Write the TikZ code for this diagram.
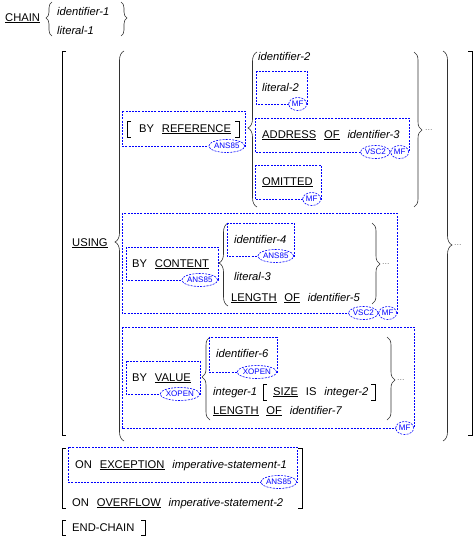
\documentclass[tikz,border=0pt]{standalone}
\usepackage{fontspec}
\setmainfont{Liberation Sans}
\usetikzlibrary{shapes.geometric,decorations.pathreplacing}
\definecolor{dbox}{RGB}{0,0,255}
\definecolor{brcol}{RGB}{50,50,50}
\newcommand\gp{\hspace{7.8pt}}
\newcommand\ukw[1]{\underline{#1}}
\newcommand\lbrc[5]{\pgfmathsetmacro\asp{(#3-#4)/(#3-#2)}\draw[brc, decoration={brace, amplitude=#5pt, aspect=\asp}] (#1,#3) -- (#1,#2);}
\newcommand\rbrc[5]{\pgfmathsetmacro\asp{(#4-#2)/(#3-#2)}\draw[brc, decoration={brace, amplitude=#5pt, aspect=\asp}] (#1,#2) -- (#1,#3);}
\newcommand\lbk[3]{\draw[brk] (#1+4,#2) -- (#1,#2) -- (#1,#3) -- (#1+4,#3);}
\newcommand\rbk[3]{\draw[brk] (#1-4,#2) -- (#1,#2) -- (#1,#3) -- (#1-4,#3);}
\tikzset{
 txt/.style={anchor=base west, inner sep=0pt, font=\fontsize{11.2}{13}\selectfont},
 itx/.style={anchor=base west, inner sep=0pt, font=\fontsize{11.2}{13}\selectfont\itshape},
 dbx/.style={draw=dbox, dash pattern=on 2pt off 1.2pt, line width=0.6pt},
 badge/.style={ellipse, draw=dbox, dash pattern=on 2pt off 1.2pt, line width=0.6pt, fill=white, text=dbox, inner xsep=0pt, inner ysep=0pt, minimum height=13pt, minimum width=18pt, font=\fontsize{8}{8}\selectfont, anchor=east},
 brk/.style={draw=black, line width=0.7pt},
 brc/.style={draw=brcol, line width=0.6pt, decorate},
 dots/.style={anchor=west, inner sep=0pt, text=gray, font=\fontsize{9}{9}\selectfont},
}
\begin{document}
\begin{tikzpicture}[x=1pt,y=-1pt]
\useasboundingbox (0,0) rectangle (475,538);
% CHAIN
\node[txt] (chain) at (5,21) {\ukw{CHAIN}};
\lbrc{52}{2}{36}{18}{6}
\node[itx] (id1) at (57,16) {identifier-1};
\node[itx] (lit1) at (57,34) {literal-1};
\rbrc{121}{2}{36}{18}{6}
% USING big
\lbk{62}{51}{435}
\rbk{472}{51}{435}
\node[txt] (using) at (72,246) {\ukw{USING}};
\lbrc{124}{51}{441}{242}{9}
\rbrc{443}{51}{441}{245}{9}
\node[dots] (dotsbig) at (454,245) {...};
% Group 1
\draw[dbx] (122,111) rectangle (245,146);
\lbk{127}{121}{137}
\node[txt] (byref) at (139,132) {BY\gp\ukw{REFERENCE}};
\rbk{239}{121}{137}
\node[badge] (ans1) at (245,146) {ANS85};
\lbrc{257}{52}{207}{128}{9}
\node[itx] (id2) at (258,60) {identifier-2};
\draw[dbx] (256,71) rectangle (307,104);
\node[itx] (lit2) at (262,91) {literal-2};
\node[badge] (mf1) at (307,104) {MF};
\draw[dbx] (255,118) rectangle (409,152);
\node[txt] (addr) at (262,138) {\ukw{ADDRESS}\gp\ukw{OF}\gp\textit{identifier-3}};
\node[badge] (mf2) at (409,152) {MF};
\node[badge] (vsc1) at (mf2.west) {VSC2};
\draw[dbx] (255,165) rectangle (321,199);
\node[txt] (omit) at (262,185) {\ukw{OMITTED}};
\node[badge] (mf3) at (321,199) {MF};
\rbrc{414}{52}{207}{130}{8}
\node[dots] (dots1) at (425,130) {...};
% Group 2
\draw[dbx] (122,213) rectangle (397,313);
\draw[dbx] (126,247) rectangle (218,280);
\node[txt] (bycont) at (132,267) {BY\gp\ukw{CONTENT}};
\node[badge] (ans2) at (218,280) {ANS85};
\lbrc{228}{223}{306}{263}{9}
\draw[dbx] (227,223) rectangle (294,256);
\node[itx] (id4) at (234,243) {identifier-4};
\node[badge] (ans3) at (294,256) {ANS85};
\node[itx] (lit3) at (234,280) {literal-3};
\node[txt] (len5) at (231,301) {\ukw{LENGTH}\gp\ukw{OF}\gp\textit{identifier-5}};
\rbrc{372}{223}{304}{264}{8}
\node[dots] (dots2) at (382,264) {...};
\node[badge] (mf4) at (397,313) {MF};
\node[badge] (vsc2) at (mf4.west) {VSC2};
% Group 3
\draw[dbx] (122,327) rectangle (414,428);
\draw[dbx] (126,361) rectangle (200,394);
\node[txt] (byval) at (132,381) {BY\gp\ukw{VALUE}};
\node[badge] (xo1) at (200,394) {XOPEN};
\lbrc{210}{337}{420}{377}{8}
\draw[dbx] (209,337) rectangle (277,372);
\node[itx] (id6) at (216,357) {identifier-6};
\node[badge] (xo2) at (277,372) {XOPEN};
\node[itx] (int1) at (213,395) {integer-1};
\lbk{263}{384}{400}
\node[txt] (size) at (273,395) {\ukw{SIZE}\gp IS\gp\textit{integer-2}};
\rbk{375}{384}{400}
\node[txt] (len7) at (213,414) {\ukw{LENGTH}\gp\ukw{OF}\gp\textit{identifier-7}};
\rbrc{387}{337}{420}{380}{8}
\node[dots] (dots3) at (397,380) {...};
\node[badge] (mf5) at (414,428) {MF};
% ON EXCEPTION / OVERFLOW
\lbk{62}{448}{508}
\rbk{302}{448}{508}
\draw[dbx] (68,447) rectangle (297,482);
\node[txt] (onexc) at (75,468) {ON\gp\ukw{EXCEPTION}\gp\textit{imperative-statement-1}};
\node[badge] (ans4) at (297,482) {ANS85};
\node[txt] (onovf) at (72,506) {ON\gp\ukw{OVERFLOW}\gp\textit{imperative-statement-2}};
% END-CHAIN
\lbk{62}{520}{535}
\node[txt] (endc) at (72,531) {END-CHAIN};
\rbk{145}{520}{535}
\end{tikzpicture}
\end{document}
